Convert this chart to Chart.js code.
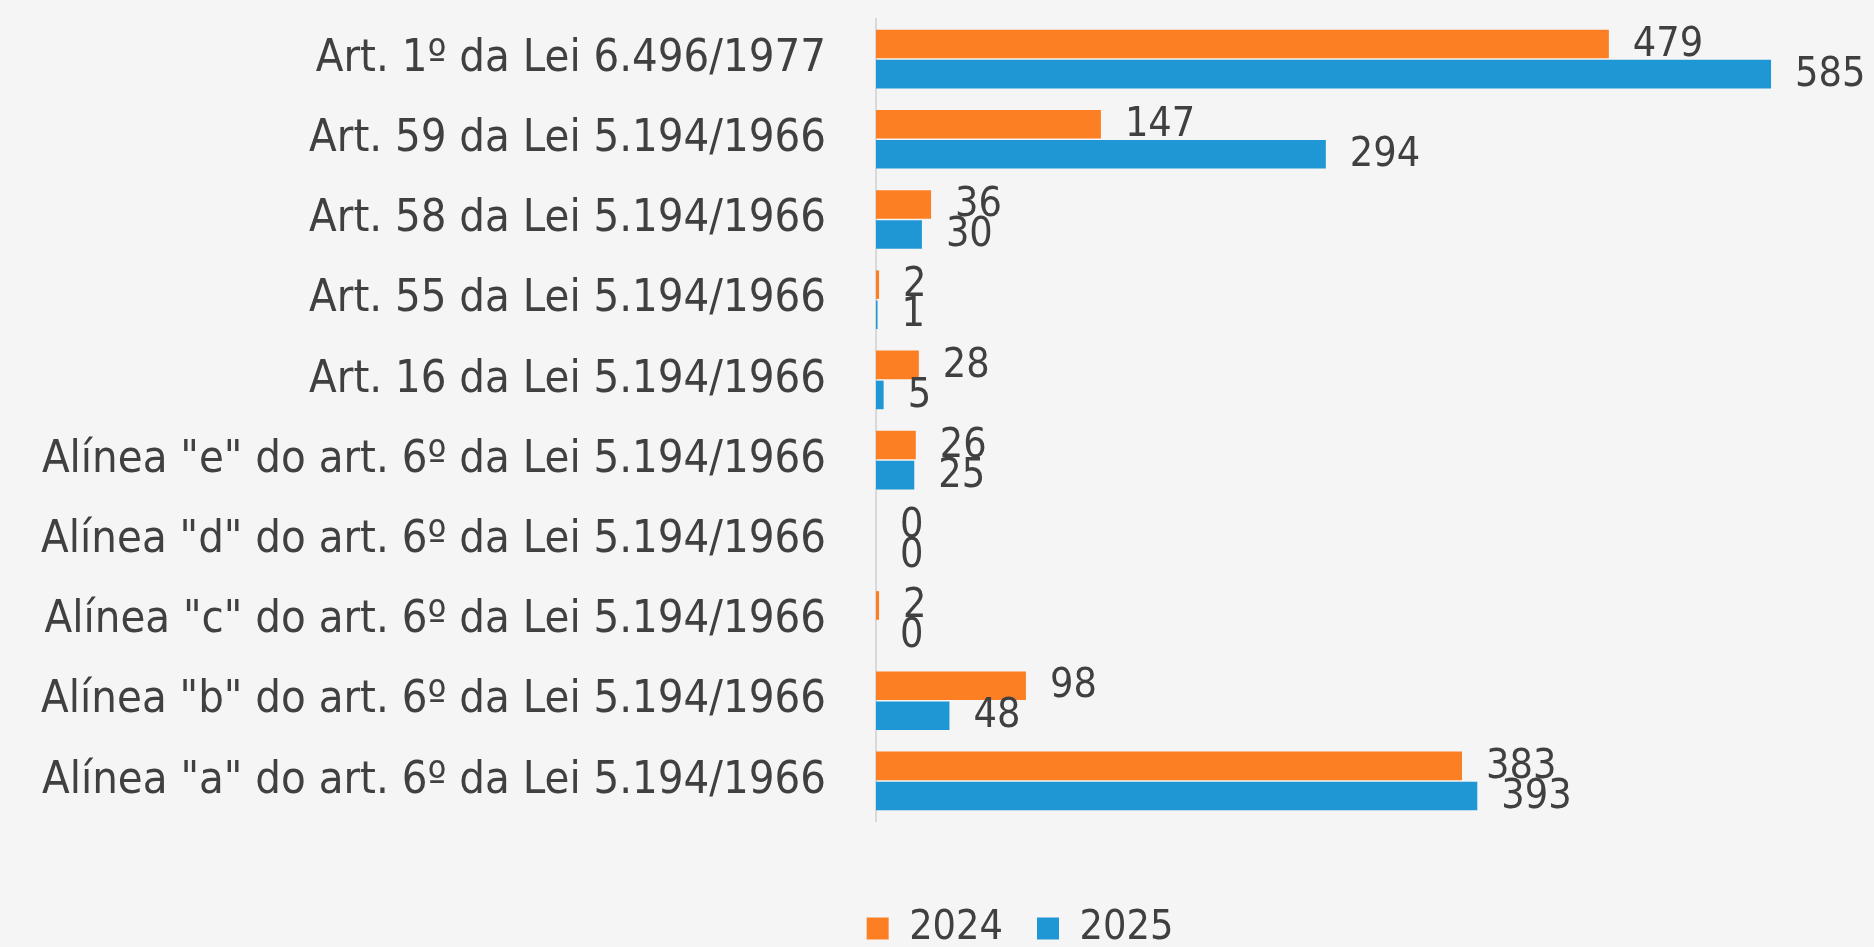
<!DOCTYPE html>
<html lang="pt-BR">
<head>
<meta charset="utf-8">
<title>Autuações por dispositivo legal</title>
<script src="https://cdn.jsdelivr.net/npm/chart.js@4.4.1/dist/chart.umd.min.js"></script>
<style>
    html, body { margin: 0; padding: 0; background: #f5f5f5; }
    #chart-wrap { position: relative; width: 1874px; height: 947px; }
</style>
</head>
<body>
<div id="chart-wrap"><canvas id="infracoes-chart"></canvas></div>
<script>
// --- Data ---
const categories = [
    'Art. 1º da Lei 6.496/1977',
    'Art. 59 da Lei 5.194/1966',
    'Art. 58 da Lei 5.194/1966',
    'Art. 55 da Lei 5.194/1966',
    'Art. 16 da Lei 5.194/1966',
    'Alínea "e" do art. 6º da Lei 5.194/1966',
    'Alínea "d" do art. 6º da Lei 5.194/1966',
    'Alínea "c" do art. 6º da Lei 5.194/1966',
    'Alínea "b" do art. 6º da Lei 5.194/1966',
    'Alínea "a" do art. 6º da Lei 5.194/1966'
];
const values2024 = [479, 147, 36, 2, 28, 26, 0, 2, 98, 383];
const values2025 = [585, 294, 30, 1, 5, 25, 0, 0, 48, 393];
const seriesLabels = ['2024', '2025'];

const FONT = '"DejaVu Sans Condensed", "Liberation Sans Narrow", "Liberation Sans", sans-serif';

document.addEventListener('DOMContentLoaded', () => {
    const ctx = document.getElementById('infracoes-chart').getContext('2d');

    // value labels at the end of each bar (no datalabels plugin offline)
    const valueLabels = {
        id: 'valueLabels',
        afterDatasetsDraw(chart) {
            const c = chart.ctx;
            c.save();
            c.font = '41px ' + FONT;
            c.fillStyle = '#404040';
            c.textBaseline = 'middle';
            c.textAlign = 'left';
            chart.data.datasets.forEach((ds, i) => {
                chart.getDatasetMeta(i).data.forEach((bar, j) => {
                    c.fillText(String(ds.data[j]), bar.x + 24, bar.y + 1);
                });
            });
            c.restore();
        }
    };

    // move the legend right and down a bit, like the original
    const legendShift = {
        id: 'legendShift',
        afterUpdate(chart) {
            if (!chart.legend) return;
            chart.legend.left += 246;
            chart.legend.top += 12;
        }
    };

    new Chart(ctx, {
        type: 'bar',
        data: {
            labels: categories,
            datasets: [{
                label: seriesLabels[0],
                data: values2024,
                backgroundColor: '#fd7f24',
                categoryPercentage: 0.75,
                barPercentage: 0.95
            }, {
                label: seriesLabels[1],
                data: values2025,
                backgroundColor: '#1f97d4',
                categoryPercentage: 0.75,
                barPercentage: 0.95
            }]
        },
        options: {
            indexAxis: 'y',
            responsive: true,
            maintainAspectRatio: false,
            animation: false,
            layout: { padding: { top: 16, left: 0, right: 80, bottom: 0 } },
            plugins: {
                legend: {
                    position: 'bottom',
                    labels: {
                        font: { family: FONT, size: 41 },
                        color: '#404040',
                        boxWidth: 22,
                        boxHeight: 22,
                        padding: 34
                    }
                },
                tooltip: { enabled: false }
            },
            scales: {
                x: {
                    min: 0,
                    max: 600,
                    ticks: { display: false },
                    grid: { display: false },
                    border: { display: false },
                    afterFit: (scale) => { scale.height = 41; }
                },
                y: {
                    ticks: {
                        font: { family: FONT, size: 45 },
                        color: '#404040',
                        padding: -8
                    },
                    // invisible tick marks give the gap between labels and axis
                    grid: { drawOnChartArea: false, drawTicks: true, tickLength: 58, tickColor: 'rgba(0,0,0,0)' },
                    border: { color: '#d9d9d9', width: 2 },
                    afterFit: (scale) => { scale.width = 876; }
                }
            }
        },
        plugins: [valueLabels, legendShift]
    });
});
</script>
</body>
</html>
